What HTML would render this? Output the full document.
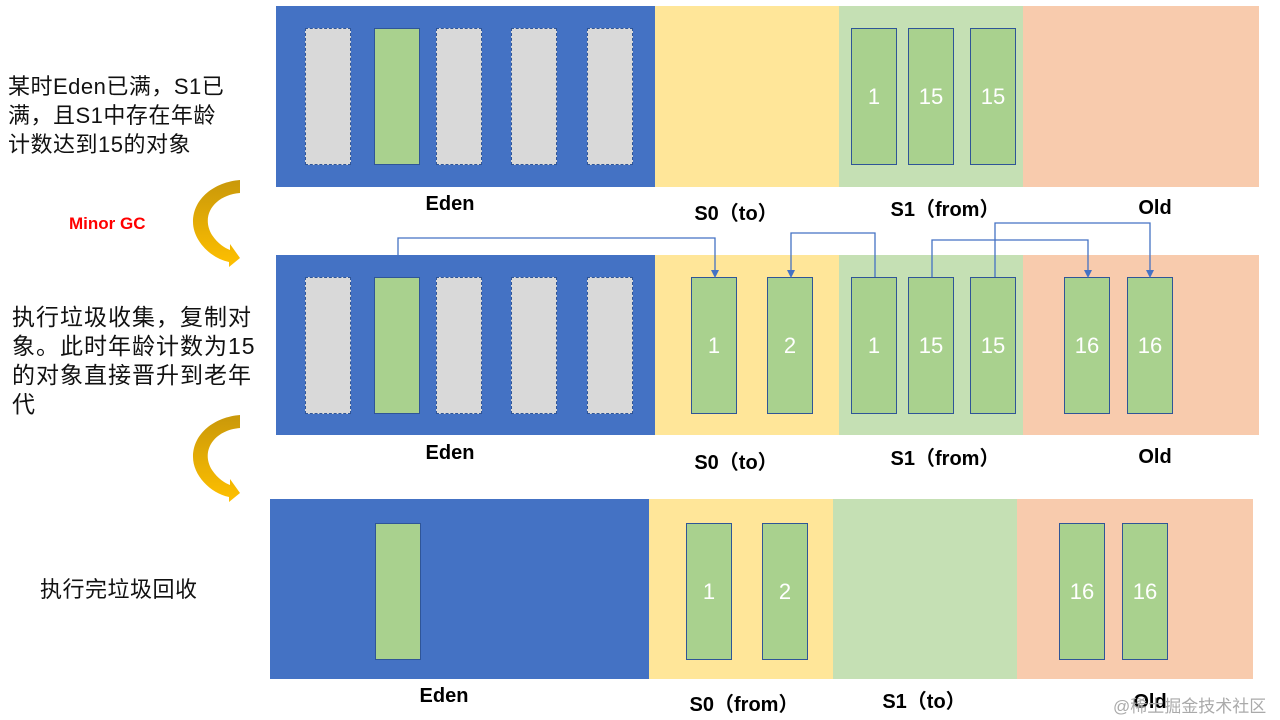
<!DOCTYPE html>
<html><head><meta charset="utf-8"><style>
body{margin:0;width:1280px;height:720px;background:#fff;position:relative;overflow:hidden;font-family:"Liberation Sans","Noto Sans CJK SC",sans-serif}
.r{position:absolute}
.b{position:absolute;box-sizing:border-box;border:1px solid #2f5597;background:#a9d18e;color:#fff;font-size:22px;display:flex;align-items:center;justify-content:center}
.g{position:absolute;box-sizing:border-box;border:1px dashed #2f5597;background:#d9d9d9}
.l{position:absolute;font-size:20px;font-weight:bold;color:#000;transform:translateX(-50%);white-space:nowrap}
.t{position:absolute;font-size:22px;line-height:29px;color:#111;letter-spacing:0.5px}
</style></head><body>
<!-- panel 1 -->
<div class="r" style="left:276px;top:6px;width:379px;height:181px;background:#4472c4"></div>
<div class="r" style="left:655px;top:6px;width:184px;height:181px;background:#ffe699"></div>
<div class="r" style="left:839px;top:6px;width:184px;height:181px;background:#c5e0b4"></div>
<div class="r" style="left:1023px;top:6px;width:236px;height:181px;background:#f8cbad"></div>
<div class="g" style="left:305px;top:28px;width:46px;height:137px"></div>
<div class="b" style="left:374px;top:28px;width:46px;height:137px"></div>
<div class="g" style="left:436px;top:28px;width:46px;height:137px"></div>
<div class="g" style="left:511px;top:28px;width:46px;height:137px"></div>
<div class="g" style="left:587px;top:28px;width:46px;height:137px"></div>
<div class="b" style="left:851px;top:28px;width:46px;height:137px">1</div>
<div class="b" style="left:908px;top:28px;width:46px;height:137px">15</div>
<div class="b" style="left:970px;top:28px;width:46px;height:137px">15</div>
<div class="l" style="left:450px;top:193px">Eden</div>
<div class="l" style="left:736px;top:197px">S0（to）</div>
<div class="l" style="left:945px;top:193px">S1（from）</div>
<div class="l" style="left:1155px;top:197px">Old</div>
<!-- panel 2 -->
<div class="r" style="left:276px;top:255px;width:379px;height:180px;background:#4472c4"></div>
<div class="r" style="left:655px;top:255px;width:184px;height:180px;background:#ffe699"></div>
<div class="r" style="left:839px;top:255px;width:184px;height:180px;background:#c5e0b4"></div>
<div class="r" style="left:1023px;top:255px;width:236px;height:180px;background:#f8cbad"></div>
<div class="g" style="left:305px;top:277px;width:46px;height:137px"></div>
<div class="b" style="left:374px;top:277px;width:46px;height:137px"></div>
<div class="g" style="left:436px;top:277px;width:46px;height:137px"></div>
<div class="g" style="left:511px;top:277px;width:46px;height:137px"></div>
<div class="g" style="left:587px;top:277px;width:46px;height:137px"></div>
<div class="b" style="left:691px;top:277px;width:46px;height:137px">1</div>
<div class="b" style="left:767px;top:277px;width:46px;height:137px">2</div>
<div class="b" style="left:851px;top:277px;width:46px;height:137px">1</div>
<div class="b" style="left:908px;top:277px;width:46px;height:137px">15</div>
<div class="b" style="left:970px;top:277px;width:46px;height:137px">15</div>
<div class="b" style="left:1064px;top:277px;width:46px;height:137px">16</div>
<div class="b" style="left:1127px;top:277px;width:46px;height:137px">16</div>
<div class="l" style="left:450px;top:442px">Eden</div>
<div class="l" style="left:736px;top:446px">S0（to）</div>
<div class="l" style="left:945px;top:442px">S1（from）</div>
<div class="l" style="left:1155px;top:446px">Old</div>
<!-- panel 3 -->
<div class="r" style="left:270px;top:499px;width:379px;height:180px;background:#4472c4"></div>
<div class="r" style="left:649px;top:499px;width:184px;height:180px;background:#ffe699"></div>
<div class="r" style="left:833px;top:499px;width:184px;height:180px;background:#c5e0b4"></div>
<div class="r" style="left:1017px;top:499px;width:236px;height:180px;background:#f8cbad"></div>
<div class="b" style="left:375px;top:523px;width:46px;height:137px"></div>
<div class="b" style="left:686px;top:523px;width:46px;height:137px">1</div>
<div class="b" style="left:762px;top:523px;width:46px;height:137px">2</div>
<div class="b" style="left:1059px;top:523px;width:46px;height:137px">16</div>
<div class="b" style="left:1122px;top:523px;width:46px;height:137px">16</div>
<div class="l" style="left:444px;top:685px">Eden</div>
<div class="l" style="left:744px;top:688px">S0（from）</div>
<div class="l" style="left:924px;top:685px">S1（to）</div>
<div class="l" style="left:1150px;top:691px">Old</div>
<div class="r" style="left:1113px;top:692px;font-size:17px;color:#aaa">@稀土掘金技术社区</div>
<!-- texts -->
<div class="t" style="left:8px;top:72px">某时Eden已满，S1已<br>满，且S1中存在年龄<br>计数达到15的对象</div>
<div class="r" style="left:69px;top:214px;color:#ff0000;font-weight:bold;font-size:17px">Minor GC</div>
<div class="t" style="left:12px;top:303px;font-size:23px;letter-spacing:1px">执行垃圾收集，复制对<br>象。此时年龄计数为15<br>的对象直接晋升到老年<br>代</div>
<div class="t" style="left:40px;top:575px">执行完垃圾回收</div>
<svg class="r" style="left:0;top:0" width="1280" height="720">
<defs>
<linearGradient id="gd" x1="0" y1="0" x2="0" y2="1"><stop offset="0" stop-color="#c9980a"/><stop offset="1" stop-color="#ffc000"/></linearGradient>
</defs>
<g fill="none" stroke="#4472c4" stroke-width="1.3">
<polyline points="398,255 398,238 715,238 715,276"/>
<polyline points="875,277 875,233 791,233 791,276"/>
<polyline points="932,277 932,240 1088,240 1088,276"/>
<polyline points="995,277 995,223 1150,223 1150,276"/>
</g>
<g fill="#4472c4">
<path d="M711,270 L719,270 L715,278 Z"/><path d="M787,270 L795,270 L791,278 Z"/>
<path d="M1084,270 L1092,270 L1088,278 Z"/><path d="M1146,270 L1154,270 L1150,278 Z"/>
</g>
<g fill="url(#gd)">
<path d="M240,180 L240,193 C215,195 200,215 212,235 C218,244 225,248 230,250 L230,244 L240,258 L229,267 L229,262 C210,258 193,240 193,222 C193,198 215,182 240,180 Z"/>
<path d="M240,415 L240,428 C215,430 200,450 212,470 C218,479 225,483 230,485 L230,479 L240,493 L229,502 L229,497 C210,493 193,475 193,457 C193,433 215,417 240,415 Z"/>
</g>
</svg>
</body></html>
